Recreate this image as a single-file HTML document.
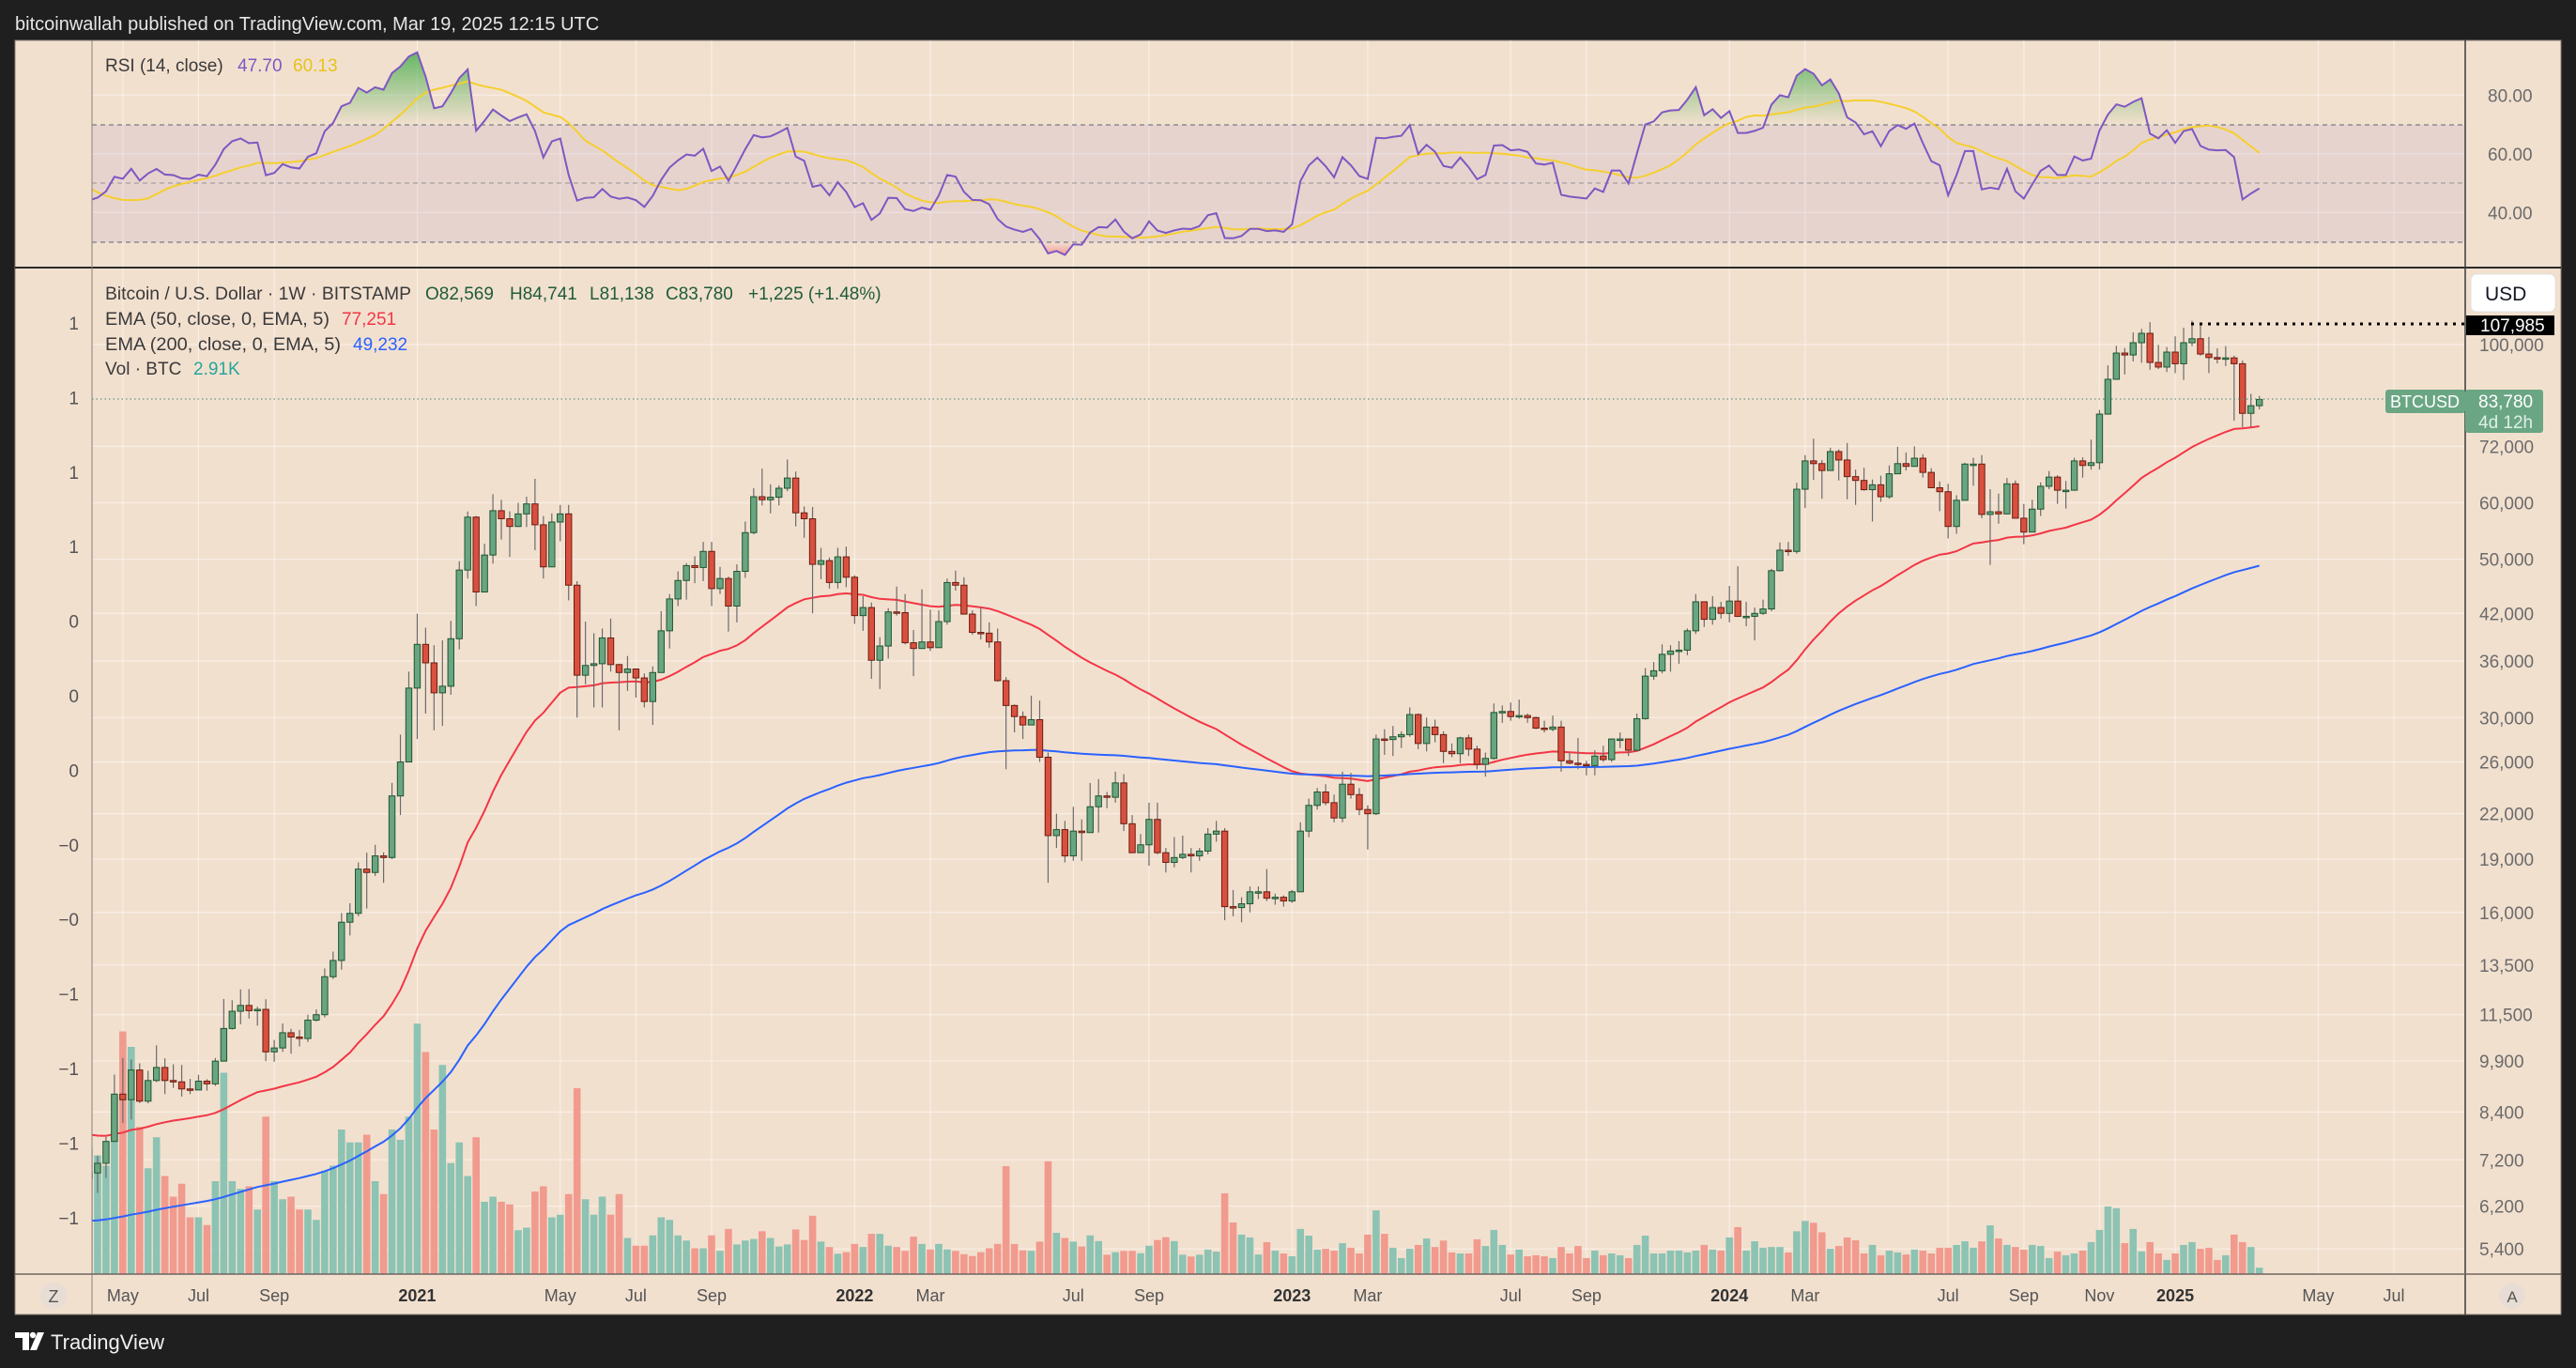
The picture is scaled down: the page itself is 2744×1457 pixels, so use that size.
<!DOCTYPE html>
<html><head><meta charset="utf-8"><title>BTCUSD 1W</title>
<style>
html,body{margin:0;padding:0;background:#1f1f1f;}
svg{display:block;}
text{font-family:"Liberation Sans",sans-serif;}
</style></head>
<body>
<svg id="chart" xmlns="http://www.w3.org/2000/svg" width="2744" height="1457" viewBox="0 0 2744 1457">
<defs>
<clipPath id="clipMain"><rect x="98" y="286" width="2528" height="1071"/></clipPath>
<clipPath id="clipRsi"><rect x="98" y="43" width="2528" height="242"/></clipPath>
<clipPath id="clipOB"><rect x="98" y="43" width="2528" height="90"/></clipPath>
<clipPath id="clipOS"><rect x="98" y="258" width="2528" height="27"/></clipPath>
<linearGradient id="gOB" gradientUnits="userSpaceOnUse" x1="0" y1="55" x2="0" y2="133"><stop offset="0" stop-color="#4caf50" stop-opacity="0.85"/><stop offset="1" stop-color="#4caf50" stop-opacity="0"/></linearGradient>
<linearGradient id="gOS" gradientUnits="userSpaceOnUse" x1="0" y1="258" x2="0" y2="285"><stop offset="0" stop-color="#f23645" stop-opacity="0"/><stop offset="1" stop-color="#f23645" stop-opacity="0.8"/></linearGradient>
</defs>
<rect x="0" y="0" width="2744" height="1457" fill="#1f1f1f"/>
<text x="16" y="32" font-size="20" fill="#e6e6e6">bitcoinwallah published on TradingView.com, Mar 19, 2025 12:15 UTC</text>
<rect x="16" y="43" width="2712" height="1357" fill="#f2e0cf" stroke="#8a7f77" stroke-width="1"/>
<g id="grid"></g>
<rect x="98" y="133" width="2528" height="125" fill="#7e57c2" fill-opacity="0.09"/>
<line x1="98" y1="133" x2="2626" y2="133" stroke="#787b86" stroke-width="1.3" stroke-dasharray="5,4"/>
<line x1="98" y1="195" x2="2626" y2="195" stroke="#787b86" stroke-opacity="0.6" stroke-width="1.3" stroke-dasharray="5,4"/>
<line x1="98" y1="258" x2="2626" y2="258" stroke="#787b86" stroke-width="1.3" stroke-dasharray="5,4"/>
<g id="rsiG" clip-path="url(#clipRsi)"></g>
<g id="volG" clip-path="url(#clipMain)"></g>
<g id="emaG" clip-path="url(#clipMain)"></g>
<g id="candleG" clip-path="url(#clipMain)"></g>
<line x1="16" y1="285" x2="2728" y2="285" stroke="#2a2a2a" stroke-width="2"/>
<line x1="98" y1="43" x2="98" y2="1400" stroke="#8c8078" stroke-width="1"/>
<line x1="2626" y1="43" x2="2626" y2="1400" stroke="#3a3a3a" stroke-width="1.5"/>
<line x1="16" y1="1357" x2="2728" y2="1357" stroke="#6f6560" stroke-width="1.5"/>
<g id="axisG"></g>
<text y="76" font-size="19"><tspan x="112" fill="#3a3a3a">RSI (14, close)</tspan><tspan x="253" fill="#7e57c2">47.70</tspan><tspan x="312" fill="#e8c21c">60.13</tspan></text>
<text y="319" font-size="19"><tspan x="112" fill="#3a3a3a" textLength="326" lengthAdjust="spacingAndGlyphs">Bitcoin / U.S. Dollar · 1W · BITSTAMP</tspan><tspan x="453" fill="#1e5c38">O82,569</tspan><tspan x="543" fill="#1e5c38">H84,741</tspan><tspan x="628" fill="#1e5c38">L81,138</tspan><tspan x="709" fill="#1e5c38">C83,780</tspan><tspan x="797" fill="#1e5c38">+1,225 (+1.48%)</tspan></text>
<text y="346" font-size="19"><tspan x="112" fill="#3a3a3a" textLength="239" lengthAdjust="spacingAndGlyphs">EMA (50, close, 0, EMA, 5)</tspan><tspan x="364" fill="#f23645">77,251</tspan></text>
<text y="373" font-size="19"><tspan x="112" fill="#3a3a3a" textLength="251" lengthAdjust="spacingAndGlyphs">EMA (200, close, 0, EMA, 5)</tspan><tspan x="376" fill="#2962ff">49,232</tspan></text>
<text y="399" font-size="19"><tspan x="112" fill="#3a3a3a">Vol · BTC</tspan><tspan x="206" fill="#26a69a">2.91K</tspan></text>
<line x1="2334" y1="345" x2="2626" y2="345" stroke="#000" stroke-width="3" stroke-dasharray="3,6"/>
<rect x="2627" y="336" width="94" height="21" fill="#000"/>
<text x="2642" y="353" font-size="19" fill="#fff">107,985</text>
<rect x="2632" y="292" width="90" height="40" rx="6" fill="#fff" stroke="#e0e0e0"/>
<text x="2647" y="320" font-size="21" fill="#131722">USD</text>
<line x1="98" y1="425" x2="2541" y2="425" stroke="#5f9a86" stroke-width="1.2" stroke-dasharray="1.5,3"/>
<rect x="2541" y="415" width="85" height="25" rx="3" fill="#6aa684"/>
<text x="2583" y="434" font-size="18" fill="#fff" text-anchor="middle">BTCUSD</text>
<rect x="2626" y="415" width="83" height="46" rx="3" fill="#6aa684"/>
<text x="2640" y="434" font-size="19" fill="#fff">83,780</text>
<text x="2640" y="456" font-size="19" fill="#dff0e6">4d 12h</text>
<circle cx="57" cy="1380" r="14" fill="#e8ddd5"/>
<text x="57" y="1387" font-size="18" fill="#555" text-anchor="middle">Z</text>
<circle cx="2676" cy="1380" r="14" fill="#e8ddd5"/>
<text x="2676" y="1387" font-size="17" fill="#555" text-anchor="middle">A</text>
<g>
<path d="M16 1419 H31 V1438 H24 V1425 H16 Z" fill="#fff"/>
<circle cx="35" cy="1422" r="3.2" fill="#fff"/>
<path d="M40 1419 H47 L39 1438 H32 Z" fill="#fff"/>
</g>
<text x="54" y="1437" font-size="22" fill="#f0f0f0">TradingView</text>
</svg>
<script>
const startDate = '2020-04-06';
const firstOpen = 6775;
const closes = [6900,7120,7640,8900,8740,9620,8700,9300,9700,9300,9260,9050,9020,9280,9200,9900,11000,11630,11850,11650,11700,10200,10330,10850,10700,10650,11300,11500,13000,13700,15500,15950,18400,18200,19200,19100,23300,26000,33000,
38000,35800,32500,33200,38700,48300,57300,45000,50700,58500,57000,55600,57900,59800,55900,48800,56400,57900,46000,34400,35500,35700,38800,35600,34700,35100,34100,31600,34700,39700,44000,46700,49000,48700,51300,45500,47000,43000,48100,54500,61200,60600,61100,62900,65000,58100,57000,49200,49800,46400,50400,47200,
41700,42800,36100,37800,42200,42100,38200,37500,38300,37600,40900,46400,46000,41900,39500,39400,38300,33800,31200,30100,29300,29800,26400,20500,20900,19200,20800,20700,22500,23300,23200,24300,21300,19400,19900,21600,19400,18800,19100,19300,19200,19500,20600,20800,16300,16250,16450,17100,17100,16750,16800,16600,
17100,20800,22600,23600,22800,21700,24200,23400,22300,22000,28000,27950,28200,28400,30300,27600,29100,28400,26900,26700,28100,27100,25800,26300,30500,30600,30100,30200,30000,29000,28900,29100,26100,25900,25800,25700,26500,26200,28000,28000,27000,29900,34300,34900,36800,37200,37300,39700,43600,41200,42800,42000,
43700,41600,41600,42000,42600,48200,51500,51300,62700,68700,68100,66600,70800,68900,65300,64500,62600,63600,61200,65900,68100,67500,69300,66200,63000,62200,55600,60500,68000,68000,57800,58300,57900,63800,57100,54600,58800,63300,65200,62500,62500,68700,67700,68300,79900,89400,97300,96700,100600,103700,94400,93000,
97600,94000,100600,101900,97000,95900,95700,95800,94000,80100,82100,83780];
const highs = [7470,7290,7750,9480,10000,9950,9830,9600,10420,9990,9800,9780,9350,9470,9340,10000,12100,12050,12480,12490,11800,12090,10600,11180,10990,10950,11500,11700,13350,14100,15960,16480,18800,19400,19900,19420,24300,28400,34800,
41950,40100,37900,38500,41000,49700,58350,57500,52600,61700,60600,58400,60000,61200,64850,57500,58000,59600,59600,46600,40900,39400,40000,41300,35700,36600,35100,34600,35400,42300,44700,48100,49400,50500,52900,52900,48800,47300,49200,56500,62900,67000,63700,63500,69000,66400,59300,59200,51900,50300,51900,52100,
47500,44400,43500,38900,42700,45800,44700,39800,45400,42500,42400,47000,48200,47200,42400,42900,40800,40000,34200,31300,30600,32200,31700,26800,22000,21500,22500,21600,24300,24600,23600,25200,25000,21900,20600,22800,22800,19700,20400,20500,19700,19700,21000,21500,21000,17200,16800,17400,17400,18400,17000,16900,
17200,21400,23100,23900,24200,23400,25200,25100,23900,22600,28400,28900,29200,28700,31000,30400,30000,29800,28700,27600,28200,28400,27400,26800,31400,31200,31500,31800,30400,30100,29700,30200,29700,26800,28100,26100,27000,27400,28000,28600,28000,30400,35200,35900,38000,37900,38400,40000,44700,43400,44400,43600,
45900,48900,43600,42800,43900,48500,52800,52900,64000,70000,73800,68900,71700,71300,72800,66800,67200,64700,65500,67700,71900,70600,72000,70200,67100,64300,63800,61500,68300,69400,70000,62700,61800,65000,64500,59800,60600,64100,66500,65600,64400,69400,69500,73600,81000,93500,99600,98900,104000,105200,107500,99900,
99200,102700,105600,107985,106500,102500,98800,99500,96500,95000,85300,84741];
const lows = [6770,6470,6790,7660,8110,8200,8650,8640,9250,8900,9080,8830,8900,9050,9000,9140,9900,10960,11150,11360,11100,9900,9880,10200,10140,10380,10530,11250,11400,12900,13300,14850,15800,16200,18000,17600,19000,21900,26000,
28000,30400,28800,29200,32300,37400,47000,43000,45000,49300,53300,50400,55500,55500,51500,47000,48800,53000,43800,30000,33400,31000,31000,34800,28800,32700,32000,31000,29300,35300,37500,43000,43900,46300,46600,43000,44700,39600,40800,47100,54200,59500,58000,59500,62300,55600,53600,42000,46900,45500,45500,45700,
40600,39700,34000,32900,36300,41700,38000,34300,37500,37200,37600,40500,45200,42000,39200,38600,37600,33700,25400,28600,28000,29300,26000,17600,19700,18800,18900,18900,20800,20700,22400,22800,20800,19600,19500,18600,19300,18200,18500,19000,18200,18900,19300,20100,15600,15800,15500,16000,16700,16600,16400,16300,
16500,17100,20400,22300,22600,21400,21400,23100,21900,19600,21900,26600,26500,27200,28200,27100,26900,27700,25900,26400,25900,26500,25400,24800,26200,29500,29700,29900,29500,28900,28600,28700,25200,25800,25400,24900,24900,26000,26000,27200,26500,26900,29800,33900,34600,34800,35700,36700,39300,40200,40500,41300,
40800,41500,40300,38500,41800,42300,48100,50600,50900,59000,64600,60800,66700,64500,60700,59600,62400,56500,60200,60800,66300,66600,67600,65100,63400,58400,53500,54300,60700,63400,57100,49100,56100,57800,57200,52500,54600,57500,62700,59800,58900,62400,65100,66800,66800,80200,89300,90800,94700,94300,92200,92400,
91500,91200,89200,99500,96500,91200,94100,93300,78200,76600,76600,81138];
const volumesK = [49,46,42,69,94,88,57,41,53,38,30,35,22,22,19,36,78,36,33,34,25,61,36,29,30,25,25,21,40,42,56,51,51,54,36,31,56,52,61,
97,86,56,81,43,51,38,53,28,30,28,27,17,18,32,34,22,23,31,72,29,23,30,23,31,14,11,11,15,22,21,15,13,10,10,15,9,17.5,11.5,13,13.6,16.6,14,10.7,11.5,17.3,13.2,22.6,12.6,10.5,7.9,8.5,
11.7,10.5,15.6,15.6,11,10.5,9,14.5,11.7,9.6,11.7,9.6,9,7.7,7,8.5,10,11.7,41.8,11.7,9.2,9,12.6,43.7,16,14,12.6,10.7,15,12.8,7.5,8.5,9,9,8.1,11,13.2,14.3,12.8,7.5,6.8,7.5,9.5,8.7,31.3,20,15.3,14.2,7.6,12.4,9.1,8,
6.9,17.5,14.9,9.5,9.8,9.1,12,10.2,8,15.3,24.7,15.6,10.2,6.2,9.8,11.3,13.8,10.5,13,8.4,8,8,13.5,10.9,17.1,11.3,7.6,9.5,6.9,7.3,6.9,6.2,10.5,8,10.9,6.2,9.1,7.3,8,7.3,6.2,11.3,14.9,8,8,9.1,9.1,8.4,
9.1,11.3,9.5,9.1,14.2,18.2,9.1,12.7,10.2,10.5,10.5,8.4,16.6,20.6,19.9,16.2,9.8,10.9,14.2,13.1,8,11.3,7.3,9.1,8.4,7.6,9.5,9.1,8,10.2,10.2,11.3,12.7,10.2,12.7,18.9,13.8,11.3,10.5,9.5,11.3,10.9,6.2,8.7,7.3,8,9.1,12.4,17.1,26.2,25.5,12,17.5,8.8,12.4,8,
5.5,8,11.3,12.4,9.8,10.2,5.5,7.3,15.3,12.4,10.5,2.5];
const priceTicks = [100000,72000,60000,50000,42000,36000,30000,26000,22000,19000,16000,13500,11500,9900,8400,7200,6200,5400];
const rsiTicks = [80,60,40];
const timeLabelDates = ['2020-05-01','2020-07-01','2020-09-01','2021-01-01','2021-05-01','2021-07-01','2021-09-01','2022-01-01','2022-03-01','2022-07-01','2022-09-01','2023-01-01','2023-03-01','2023-07-01','2023-09-01','2024-01-01','2024-03-01','2024-07-01','2024-09-01','2024-11-01','2025-01-01','2025-05-01','2025-07-01'];
const timeLabelText = ['May','Jul','Sep','2021','May','Jul','Sep','2022','Mar','Jul','Sep','2023','Mar','Jul','Sep','2024','Mar','Jul','Sep','Nov','2025','May','Jul'];
const leftAxisText = ['1','1','1','1','0','0','0','\u22120','\u22120','\u22121','\u22121','\u22121','\u22121'];
const ema50Seed = 7850;
const ema200Seed = 5900;
const rsiGainSeed = 480;
const rsiLossSeed = 620;
const rsiMaSeed = [66,64,63,60,56,50,46,34,33,36,40,42,43];

const NS = 'http://www.w3.org/2000/svg';
const X0 = 95, BAR = 8.96;
const xW = i => X0 + BAR * i;
const DAY = 86400000;
const t0 = Date.parse(startDate + 'T00:00:00Z');
const xDate = d => { const days = (Date.parse(d + 'T00:00:00Z') - t0) / DAY; return xW(Math.ceil(days / 7 - 1e-9)); };
const yP = p => 367 - 330 * Math.log(p / 100000);
const yR = r => 195 - (r - 50) * 3.125;
const VOL_BASE = 1357, VOL_PX = 2.75;
function mk(tag, attrs, parent) {
  const el = document.createElementNS(NS, tag);
  for (const k in attrs) el.setAttribute(k, attrs[k]);
  parent.appendChild(el);
  return el;
}
const grid = document.getElementById('grid');
const axisG = document.getElementById('axisG');
const volG = document.getElementById('volG');
const emaG = document.getElementById('emaG');
const candleG = document.getElementById('candleG');
const rsiG = document.getElementById('rsiG');
const opens = closes.map((c, i) => i === 0 ? firstOpen : closes[i - 1]);

timeLabelDates.forEach((d, k) => {
  const x = xDate(d);
  const gl = mk('line', {x1: x, y1: 43, x2: x, y2: 1357, stroke: '#ffffff', 'stroke-opacity': 0.45, 'stroke-width': 1.2}, grid);
  
  
  const isYear = /^\d{4}$/.test(timeLabelText[k]);
  const t = mk('text', {x: x, y: 1386, 'font-size': 18, 'text-anchor': 'middle', fill: isYear ? '#333' : '#555', 'font-weight': isYear ? 'bold' : 'normal'}, axisG);
  t.textContent = timeLabelText[k];
  
  
});
priceTicks.forEach(p => {
  const y = yP(p);
  const gl = mk('line', {x1: 98, y1: y, x2: 2626, y2: y, stroke: '#ffffff', 'stroke-opacity': 0.45, 'stroke-width': 1.2}, grid);
  
  
  const t = mk('text', {x: 2641, y: y + 7, 'font-size': 19, fill: '#6b6b6b'}, axisG);
  t.textContent = p.toLocaleString('en-US');
  
  
});
rsiTicks.forEach(r => {
  const y = yR(r);
  const gl = mk('line', {x1: 98, y1: y, x2: 2626, y2: y, stroke: '#ffffff', 'stroke-opacity': 0.45, 'stroke-width': 1.2}, grid);
  
  
  const t = mk('text', {x: 2650, y: y + 7, 'font-size': 19, fill: '#6b6b6b'}, axisG);
  t.textContent = r.toFixed(2);
  
  
});
leftAxisText.forEach((s, k) => {
  const t = mk('text', {x: 84, y: 351 + 79.4 * k, 'font-size': 19, fill: '#555', 'text-anchor': 'end'}, axisG);
  t.textContent = s;
  
  
});

volumesK.forEach((v, i) => {
  const up = closes[i] >= opens[i];
  const h = v * VOL_PX;
  const r = mk('rect', {x: xW(i) - 3.8, y: VOL_BASE - h, width: 7.6, height: h, fill: up ? '#8cc3b3' : '#f19a8e'}, volG);
  
  
});

function ema(seed, n) { const k = 2 / (n + 1); let e = seed; return closes.map(c => (e = e + (c - e) * k)); }
const ema50 = ema(ema50Seed, 50);
const ema200 = ema(ema200Seed, 200);
const e50 = mk('polyline', {points: ema50.map((v, i) => xW(i).toFixed(1) + ',' + yP(v).toFixed(1)).join(' '), fill: 'none', stroke: '#f23645', 'stroke-width': 2}, emaG);


const e200 = mk('polyline', {points: ema200.map((v, i) => xW(i).toFixed(1) + ',' + yP(v).toFixed(1)).join(' '), fill: 'none', stroke: '#2962ff', 'stroke-width': 2}, emaG);



closes.forEach((c, i) => {
  const o = opens[i], up = c >= o, x = xW(i);
  const wick = mk('line', {x1: x, y1: yP(highs[i]), x2: x, y2: yP(lows[i]), stroke: '#6b6b6b', 'stroke-width': 1.2}, candleG);
  
  
  const yt = yP(Math.max(o, c)), yb = yP(Math.min(o, c));
  const body = mk('rect', {x: x - 3.2, y: yt, width: 6.4, height: Math.max(yb - yt, 1.5), fill: up ? '#6aa582' : '#d9503f', stroke: up ? '#1d5630' : '#6b1d12', 'stroke-width': 1}, candleG);
  
  
});

let ag = rsiGainSeed, al = rsiLossSeed;
const rsi = closes.map((c, i) => { const ch = c - opens[i]; ag = (ag * 13 + Math.max(ch, 0)) / 14; al = (al * 13 + Math.max(-ch, 0)) / 14; return 100 - 100 / (1 + ag / al); });
const rsiHist = rsiMaSeed.concat(rsi);
const rsiMa = rsi.map((r, i) => { let s = 0; for (let k = i; k < i + 14; k++) s += rsiHist[k]; return s / 14; });
const pts = rsi.map((r, i) => xW(i).toFixed(1) + ',' + yR(r).toFixed(1));
const areaPts = pts.join(' ') + ' ' + xW(rsi.length - 1) + ',' + yR(70) + ' ' + xW(0) + ',' + yR(70);
const ob = mk('polygon', {points: areaPts, fill: 'url(#gOB)', 'clip-path': 'url(#clipOB)'}, rsiG);


const areaPts2 = pts.join(' ') + ' ' + xW(rsi.length - 1) + ',' + yR(30) + ' ' + xW(0) + ',' + yR(30);
const os = mk('polygon', {points: areaPts2, fill: 'url(#gOS)', 'clip-path': 'url(#clipOS)'}, rsiG);


const maLine = mk('polyline', {points: rsiMa.map((r, i) => xW(i).toFixed(1) + ',' + yR(r).toFixed(1)).join(' '), fill: 'none', stroke: '#f5cf2f', 'stroke-width': 2}, rsiG);


const rsiLine = mk('polyline', {points: pts.join(' '), fill: 'none', stroke: '#7e57c2', 'stroke-width': 2}, rsiG);


</script>
</body></html>
